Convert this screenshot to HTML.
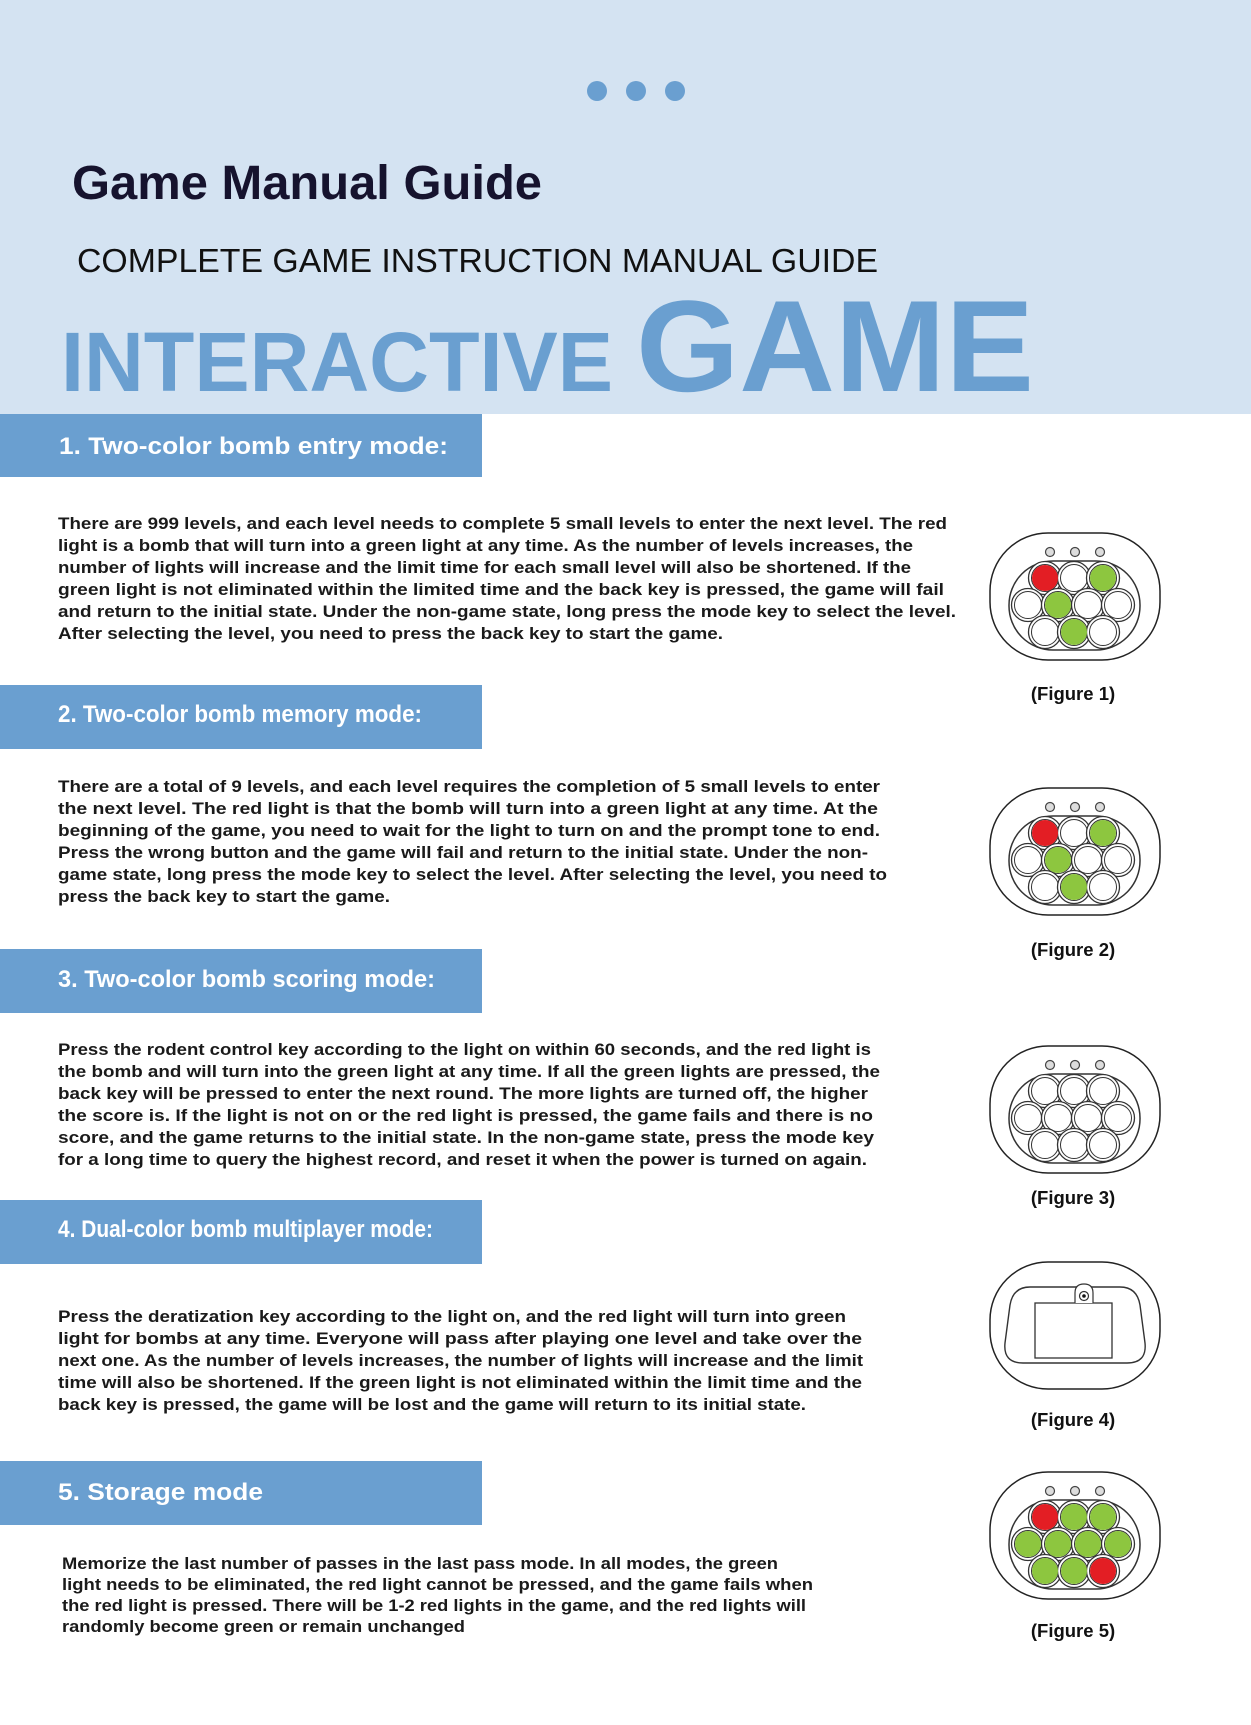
<!DOCTYPE html>
<html><head><meta charset="utf-8"><style>
html,body{margin:0;padding:0;background:#fff}
svg{display:block}
.b{font-family:"Liberation Sans",sans-serif;font-weight:bold;font-size:17px;fill:#1a1a1a}
.h{font-family:"Liberation Sans",sans-serif;font-weight:bold;font-size:24px;fill:#fff}
.f{font-family:"Liberation Sans",sans-serif;font-weight:bold;font-size:18.5px;fill:#111}
</style></head><body>
<svg width="1251" height="1725" viewBox="0 0 1251 1725" xmlns="http://www.w3.org/2000/svg">
<defs>
<g id="btn"><circle r="16.5" fill="#fff" stroke="#333" stroke-width="1.3"/><circle r="13.5" fill="none" stroke="#333" stroke-width="1"/></g>
<g id="base">
<rect x="-85" y="-63" width="170" height="127" rx="58" fill="#fff" stroke="#222" stroke-width="1.5"/>
<rect x="-66" y="-35" width="131" height="89" rx="44" fill="#fff" stroke="#333" stroke-width="1.5"/>
<circle cx="-25" cy="-44" r="4.5" fill="#ddd" stroke="#444" stroke-width="1.2"/>
<circle cx="0" cy="-44" r="4.5" fill="#ddd" stroke="#444" stroke-width="1.2"/>
<circle cx="25" cy="-44" r="4.5" fill="#ddd" stroke="#444" stroke-width="1.2"/>
<use href="#btn" x="-30" y="-18"/><use href="#btn" x="-1" y="-18"/><use href="#btn" x="28" y="-18"/>
<use href="#btn" x="-47" y="9"/><use href="#btn" x="-17" y="9"/><use href="#btn" x="13" y="9"/><use href="#btn" x="43" y="9"/>
<use href="#btn" x="-30" y="36"/><use href="#btn" x="-1" y="36"/><use href="#btn" x="28" y="36"/>
</g>
</defs>
<rect x="0" y="0" width="1251" height="414" fill="#d4e3f2"/>
<circle cx="597" cy="91" r="10" fill="#6a9fd0"/><circle cx="636" cy="91" r="10" fill="#6a9fd0"/><circle cx="675" cy="91" r="10" fill="#6a9fd0"/>
<text x="72" y="199" font-family="Liberation Sans,sans-serif" font-weight="bold" font-size="48" fill="#16132e" textLength="470" lengthAdjust="spacingAndGlyphs">Game Manual Guide</text>
<text x="77" y="272" font-family="Liberation Sans,sans-serif" font-size="33" fill="#111" textLength="801" lengthAdjust="spacingAndGlyphs">COMPLETE GAME INSTRUCTION MANUAL GUIDE</text>
<text x="61" y="391" font-family="Liberation Sans,sans-serif" font-weight="bold" font-size="84" fill="#6a9fd0" textLength="552" lengthAdjust="spacingAndGlyphs">INTERACTIVE</text>
<text x="636" y="391" font-family="Liberation Sans,sans-serif" font-weight="bold" font-size="130" fill="#6a9fd0" textLength="398" lengthAdjust="spacingAndGlyphs">GAME</text>

<rect x="0" y="414" width="482" height="63" fill="#6a9fd0"/>
<text class="h" x="59" y="454" textLength="389" lengthAdjust="spacingAndGlyphs">1. Two-color bomb entry mode:</text>
<rect x="0" y="685" width="482" height="64" fill="#6a9fd0"/>
<text class="h" x="58" y="722" textLength="364" lengthAdjust="spacingAndGlyphs">2. Two-color bomb memory mode:</text>
<rect x="0" y="949" width="482" height="64" fill="#6a9fd0"/>
<text class="h" x="58" y="987" textLength="377" lengthAdjust="spacingAndGlyphs">3. Two-color bomb scoring mode:</text>
<rect x="0" y="1200" width="482" height="64" fill="#6a9fd0"/>
<text class="h" x="58" y="1237" textLength="375" lengthAdjust="spacingAndGlyphs">4. Dual-color bomb multiplayer mode:</text>
<rect x="0" y="1461" width="482" height="64" fill="#6a9fd0"/>
<text class="h" x="58" y="1500" textLength="205" lengthAdjust="spacingAndGlyphs">5. Storage mode</text>

<text class="b" x="58" y="529" textLength="889" lengthAdjust="spacingAndGlyphs">There are 999 levels, and each level needs to complete 5 small levels to enter the next level. The red</text>
<text class="b" x="58" y="551" textLength="855" lengthAdjust="spacingAndGlyphs">light is a bomb that will turn into a green light at any time. As the number of levels increases, the</text>
<text class="b" x="58" y="573" textLength="853" lengthAdjust="spacingAndGlyphs">number of lights will increase and the limit time for each small level will also be shortened. If the</text>
<text class="b" x="58" y="595" textLength="886" lengthAdjust="spacingAndGlyphs">green light is not eliminated within the limited time and the back key is pressed, the game will fail</text>
<text class="b" x="58" y="617" textLength="898" lengthAdjust="spacingAndGlyphs">and return to the initial state. Under the non-game state, long press the mode key to select the level.</text>
<text class="b" x="58" y="639" textLength="665" lengthAdjust="spacingAndGlyphs">After selecting the level, you need to press the back key to start the game.</text>

<text class="b" x="58" y="792" textLength="822" lengthAdjust="spacingAndGlyphs">There are a total of 9 levels, and each level requires the completion of 5 small levels to enter</text>
<text class="b" x="58" y="814" textLength="820" lengthAdjust="spacingAndGlyphs">the next level. The red light is that the bomb will turn into a green light at any time. At the</text>
<text class="b" x="58" y="836" textLength="822" lengthAdjust="spacingAndGlyphs">beginning of the game, you need to wait for the light to turn on and the prompt tone to end.</text>
<text class="b" x="58" y="858" textLength="810" lengthAdjust="spacingAndGlyphs">Press the wrong button and the game will fail and return to the initial state. Under the non-</text>
<text class="b" x="58" y="880" textLength="829" lengthAdjust="spacingAndGlyphs">game state, long press the mode key to select the level. After selecting the level, you need to</text>
<text class="b" x="58" y="902" textLength="332" lengthAdjust="spacingAndGlyphs">press the back key to start the game.</text>

<text class="b" x="58" y="1055" textLength="813" lengthAdjust="spacingAndGlyphs">Press the rodent control key according to the light on within 60 seconds, and the red light is</text>
<text class="b" x="58" y="1077" textLength="822" lengthAdjust="spacingAndGlyphs">the bomb and will turn into the green light at any time. If all the green lights are pressed, the</text>
<text class="b" x="58" y="1099" textLength="810" lengthAdjust="spacingAndGlyphs">back key will be pressed to enter the next round. The more lights are turned off, the higher</text>
<text class="b" x="58" y="1121" textLength="815" lengthAdjust="spacingAndGlyphs">the score is. If the light is not on or the red light is pressed, the game fails and there is no</text>
<text class="b" x="58" y="1143" textLength="816" lengthAdjust="spacingAndGlyphs">score, and the game returns to the initial state. In the non-game state, press the mode key</text>
<text class="b" x="58" y="1165" textLength="809" lengthAdjust="spacingAndGlyphs">for a long time to query the highest record, and reset it when the power is turned on again.</text>

<text class="b" x="58" y="1322" textLength="788" lengthAdjust="spacingAndGlyphs">Press the deratization key according to the light on, and the red light will turn into green</text>
<text class="b" x="58" y="1344" textLength="804" lengthAdjust="spacingAndGlyphs">light for bombs at any time. Everyone will pass after playing one level and take over the</text>
<text class="b" x="58" y="1366" textLength="805" lengthAdjust="spacingAndGlyphs">next one. As the number of levels increases, the number of lights will increase and the limit</text>
<text class="b" x="58" y="1388" textLength="804" lengthAdjust="spacingAndGlyphs">time will also be shortened. If the green light is not eliminated within the limit time and the</text>
<text class="b" x="58" y="1410" textLength="748" lengthAdjust="spacingAndGlyphs">back key is pressed, the game will be lost and the game will return to its initial state.</text>

<text class="b" x="62" y="1569" textLength="716" lengthAdjust="spacingAndGlyphs">Memorize the last number of passes in the last pass mode. In all modes, the green</text>
<text class="b" x="62" y="1590" textLength="751" lengthAdjust="spacingAndGlyphs">light needs to be eliminated, the red light cannot be pressed, and the game fails when</text>
<text class="b" x="62" y="1611" textLength="744" lengthAdjust="spacingAndGlyphs">the red light is pressed. There will be 1-2 red lights in the game, and the red lights will</text>
<text class="b" x="62" y="1632" textLength="403" lengthAdjust="spacingAndGlyphs">randomly become green or remain unchanged</text>

<g transform="translate(1075,596)"><use href="#base"/>
<circle cx="-30" cy="-18" r="13" fill="#e31e24"/><circle cx="28" cy="-18" r="13" fill="#8dc63f"/><circle cx="-17" cy="9" r="13" fill="#8dc63f"/><circle cx="-1" cy="36" r="13" fill="#8dc63f"/></g>
<text class="f" x="1073" y="700" text-anchor="middle">(Figure 1)</text>
<g transform="translate(1075,851)"><use href="#base"/>
<circle cx="-30" cy="-18" r="13" fill="#e31e24"/><circle cx="28" cy="-18" r="13" fill="#8dc63f"/><circle cx="-17" cy="9" r="13" fill="#8dc63f"/><circle cx="-1" cy="36" r="13" fill="#8dc63f"/></g>
<text class="f" x="1073" y="956" text-anchor="middle">(Figure 2)</text>
<g transform="translate(1075,1109)"><use href="#base"/></g>
<text class="f" x="1073" y="1204" text-anchor="middle">(Figure 3)</text>
<g transform="translate(1075,1325)">
<rect x="-85" y="-63" width="170" height="127" rx="58" fill="#fff" stroke="#222" stroke-width="1.5"/>
<path d="M-45,-38 L45,-38 Q62,-38 65,-20 L70,18 Q72,38 52,38 L-52,38 Q-72,38 -70,18 L-65,-20 Q-62,-38 -45,-38 Z" fill="#fff" stroke="#333" stroke-width="1.4"/>
<rect x="-40" y="-22" width="77" height="55" fill="#fff" stroke="#333" stroke-width="1.3"/>
<path d="M0,-22 L0,-32 Q0,-41 9,-41 Q18,-41 18,-32 L18,-22" fill="#fff" stroke="#333" stroke-width="1.2"/>
<circle cx="9" cy="-29" r="4.5" fill="none" stroke="#333" stroke-width="1.2"/><circle cx="9" cy="-29" r="1.8" fill="#111"/>
</g>
<text class="f" x="1073" y="1426" text-anchor="middle">(Figure 4)</text>
<g transform="translate(1075,1535)"><use href="#base"/>
<circle cx="-30" cy="-18" r="13" fill="#e31e24"/><circle cx="-1" cy="-18" r="13" fill="#8dc63f"/><circle cx="28" cy="-18" r="13" fill="#8dc63f"/>
<circle cx="-47" cy="9" r="13" fill="#8dc63f"/><circle cx="-17" cy="9" r="13" fill="#8dc63f"/><circle cx="13" cy="9" r="13" fill="#8dc63f"/><circle cx="43" cy="9" r="13" fill="#8dc63f"/>
<circle cx="-30" cy="36" r="13" fill="#8dc63f"/><circle cx="-1" cy="36" r="13" fill="#8dc63f"/><circle cx="28" cy="36" r="13" fill="#e31e24"/></g>
<text class="f" x="1073" y="1637" text-anchor="middle">(Figure 5)</text>
</svg>
</body></html>
